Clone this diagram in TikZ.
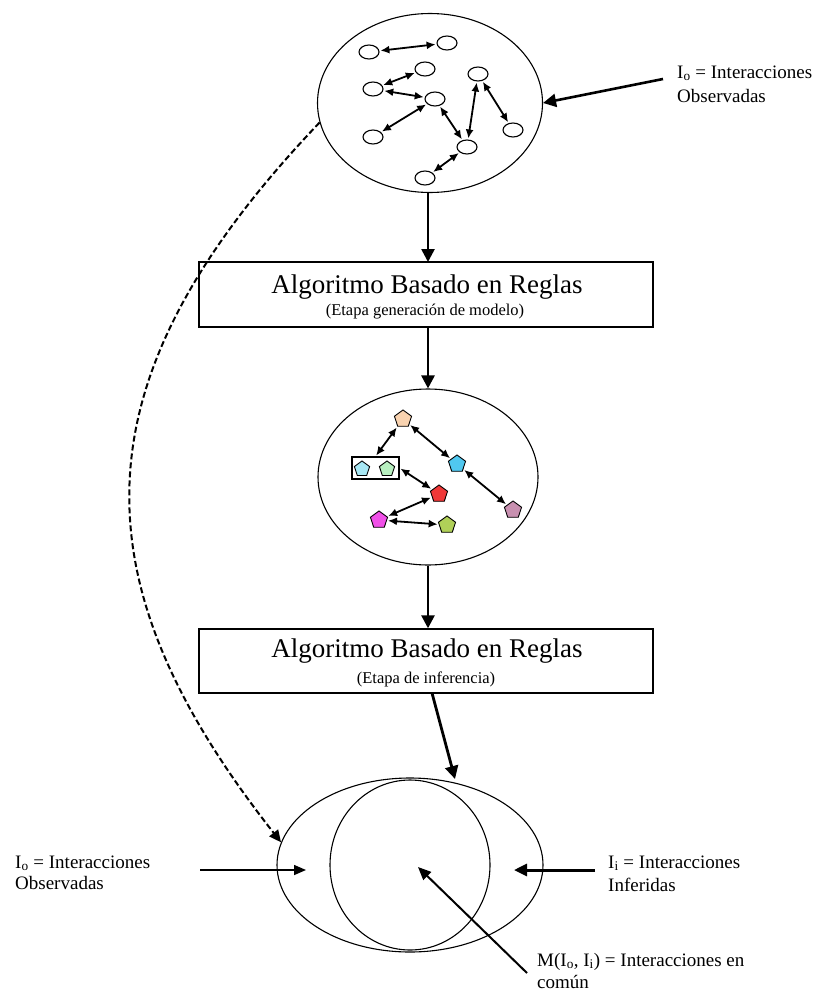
\documentclass[tikz,border=0pt]{standalone}
\usepackage{fontspec}
\setmainfont{Liberation Serif}
\usetikzlibrary{arrows.meta,shapes.geometric}
\definecolor{cpeach}{HTML}{F9D3B0}
\definecolor{ccyanl}{HTML}{A8E8F5}
\definecolor{cgreenl}{HTML}{B8F0C0}
\definecolor{cblue}{HTML}{50C8F0}
\definecolor{cred}{HTML}{F03838}
\definecolor{cmauve}{HTML}{C890B0}
\definecolor{cmag}{HTML}{F050E8}
\definecolor{cyg}{HTML}{B0D058}
\tikzset{
  obsnode/.style={draw,ellipse,line width=1.1pt,fill=white,minimum width=20pt,minimum height=14pt,inner sep=0pt},
  penta/.style={draw,regular polygon,regular polygon sides=5,line width=0.9pt,minimum size=18pt,inner sep=0pt},
  netarrow/.style={{Latex[length=9pt,width=8pt]}-{Latex[length=9pt,width=8pt]},line width=1.8pt,shorten <=1pt,shorten >=1pt},
  bigellipse/.style={draw,ellipse,line width=1.1pt,inner sep=0pt},
  algbox/.style={draw,rectangle,line width=1.4pt,minimum width=454pt,inner sep=0pt},
  flow/.style={-{Triangle[length=13pt,width=13pt]},line width=2.6pt},
  lbl/.style={anchor=base west,font=\fontsize{19}{22}\selectfont,inner sep=0pt},
  ttl/.style={anchor=base,font=\fontsize{27}{30}\selectfont,inner sep=0pt},
  sub/.style={anchor=base,font=\fontsize{16.5}{19}\selectfont,inner sep=0pt},
}
\begin{document}
\begin{tikzpicture}[x=1pt,y=-1pt]
\useasboundingbox (0,0) rectangle (824,993);
% top ellipse
\node[bigellipse,minimum width=225pt,minimum height=179pt] (obs) at (430,103) {};
\node[obsnode] (n1) at (369,52) {};
\node[obsnode] (n2) at (447,43) {};
\node[obsnode] (n3) at (425,69) {};
\node[obsnode] (n4) at (373,89) {};
\node[obsnode] (n5) at (435,99) {};
\node[obsnode] (n6) at (478,74) {};
\node[obsnode] (n7) at (373,137) {};
\node[obsnode] (n8) at (513,130) {};
\node[obsnode] (n9) at (467,147) {};
\node[obsnode] (n10) at (425,178) {};
\draw[netarrow] (n1) -- (n2);
\draw[netarrow] (n4) -- (n3);
\draw[netarrow] (n4) -- (n5);
\draw[netarrow] (n7) -- (n5);
\draw[netarrow] (n5) -- (n9);
\draw[netarrow] (n6) -- (n9);
\draw[netarrow] (n6) -- (n8);
\draw[netarrow] (n10) -- (n9);
% top label
\node[lbl] (lt1) at (677,78) {I\textsubscript{o} = Interacciones};
\node[lbl] (lt2) at (677,102) {Observadas};
\coordinate (ltail) at (663,79);
\draw[flow] (ltail) -- (obs.east);
% box 1
\node[algbox,minimum height=65pt] (box1) at (426,294.5) {};
\node[ttl] (t1) at (427,293) {Algoritmo Basado en Reglas};
\node[sub] (s1) at (425,315) {(Etapa generación de modelo)};
\draw[flow] (obs.south -| 428,0) -- (428,262);
% second ellipse
\node[bigellipse,minimum width=220pt,minimum height=176pt] (pred) at (428,477) {};
\draw[flow] (box1.south -| pred.north) -- (pred.north);
\node[penta,fill=cpeach] (p1) at (403,419) {};
\node[draw,rectangle,line width=1.2pt,minimum width=47pt,minimum height=22pt,inner sep=0pt] (grp) at (375.5,468) {};
\node[penta,fill=ccyanl,minimum size=16pt] (p2) at (362,469) {};
\node[penta,fill=cgreenl,minimum size=16pt] (p3) at (387,469) {};
\node[penta,fill=cblue] (p4) at (457,464) {};
\node[penta,fill=cred] (p5) at (439,494) {};
\node[penta,fill=cmauve] (p6) at (513,510) {};
\node[penta,fill=cmag] (p7) at (379,520) {};
\node[penta,fill=cyg] (p8) at (447,525) {};
\draw[netarrow] (p1) -- (grp.north);
\draw[netarrow] (p1) -- (p4);
\draw[netarrow] (p4) -- (p6);
\draw[netarrow] (grp.east) -- (p5);
\draw[netarrow] (p5) -- (p7);
\draw[netarrow] (p7) -- (p8);
% box 2
\node[algbox,minimum height=64pt] (box2) at (426,661) {};
\node[ttl] (t2) at (427,657) {Algoritmo Basado en Reglas};
\node[sub] (s2) at (426,683) {(Etapa de inferencia)};
\draw[flow] (pred.south) -- (box2.north -| pred.south);
% bottom ellipses
\node[bigellipse,minimum width=266pt,minimum height=174pt] (union) at (410,865) {};
\node[bigellipse,minimum width=160pt,minimum height=170pt] (inf) at (410,865) {};
\coordinate (b2tail) at (432,693);
\coordinate (b2tip) at (455,779);
\draw[flow,line width=2.8pt] (b2tail) -- (b2tip);
% dashed curve
\draw[-{Triangle[length=12pt,width=11pt]},line width=2pt,dash pattern=on 6pt off 3pt]
  (obs.190) .. controls (74,380) and (74,579) .. (union.170);
% bottom left label and arrow
\node[lbl] (lb1) at (15,868) {I\textsubscript{o} = Interacciones};
\node[lbl] (lb2) at (15,889) {Observadas};
\coordinate (latail) at (200,870);
\coordinate (latip) at (306,870);
\draw[-{Triangle[length=12pt,width=10pt]},line width=1.5pt] (latail) -- (latip);
% bottom right label and arrow
\node[lbl] (lr1) at (608,868) {I\textsubscript{i} = Interacciones};
\node[lbl] (lr2) at (608,891) {Inferidas};
\coordinate (ratail) at (595,870);
\coordinate (ratip) at (514,870);
\draw[-{Triangle[length=13pt,width=12pt]},line width=3pt] (ratail) -- (ratip);
% common label and arrow
\node[lbl] (lc1) at (537,966) {M(I\textsubscript{o}, I\textsubscript{i}) = Interacciones en};
\node[lbl] (lc2) at (537,988) {común};
\coordinate (cdtail) at (527,973);
\coordinate (cdtip) at (418,867);
\draw[-{Triangle[length=13pt,width=11pt]},line width=2pt] (cdtail) -- (cdtip);
\end{tikzpicture}
\end{document}
